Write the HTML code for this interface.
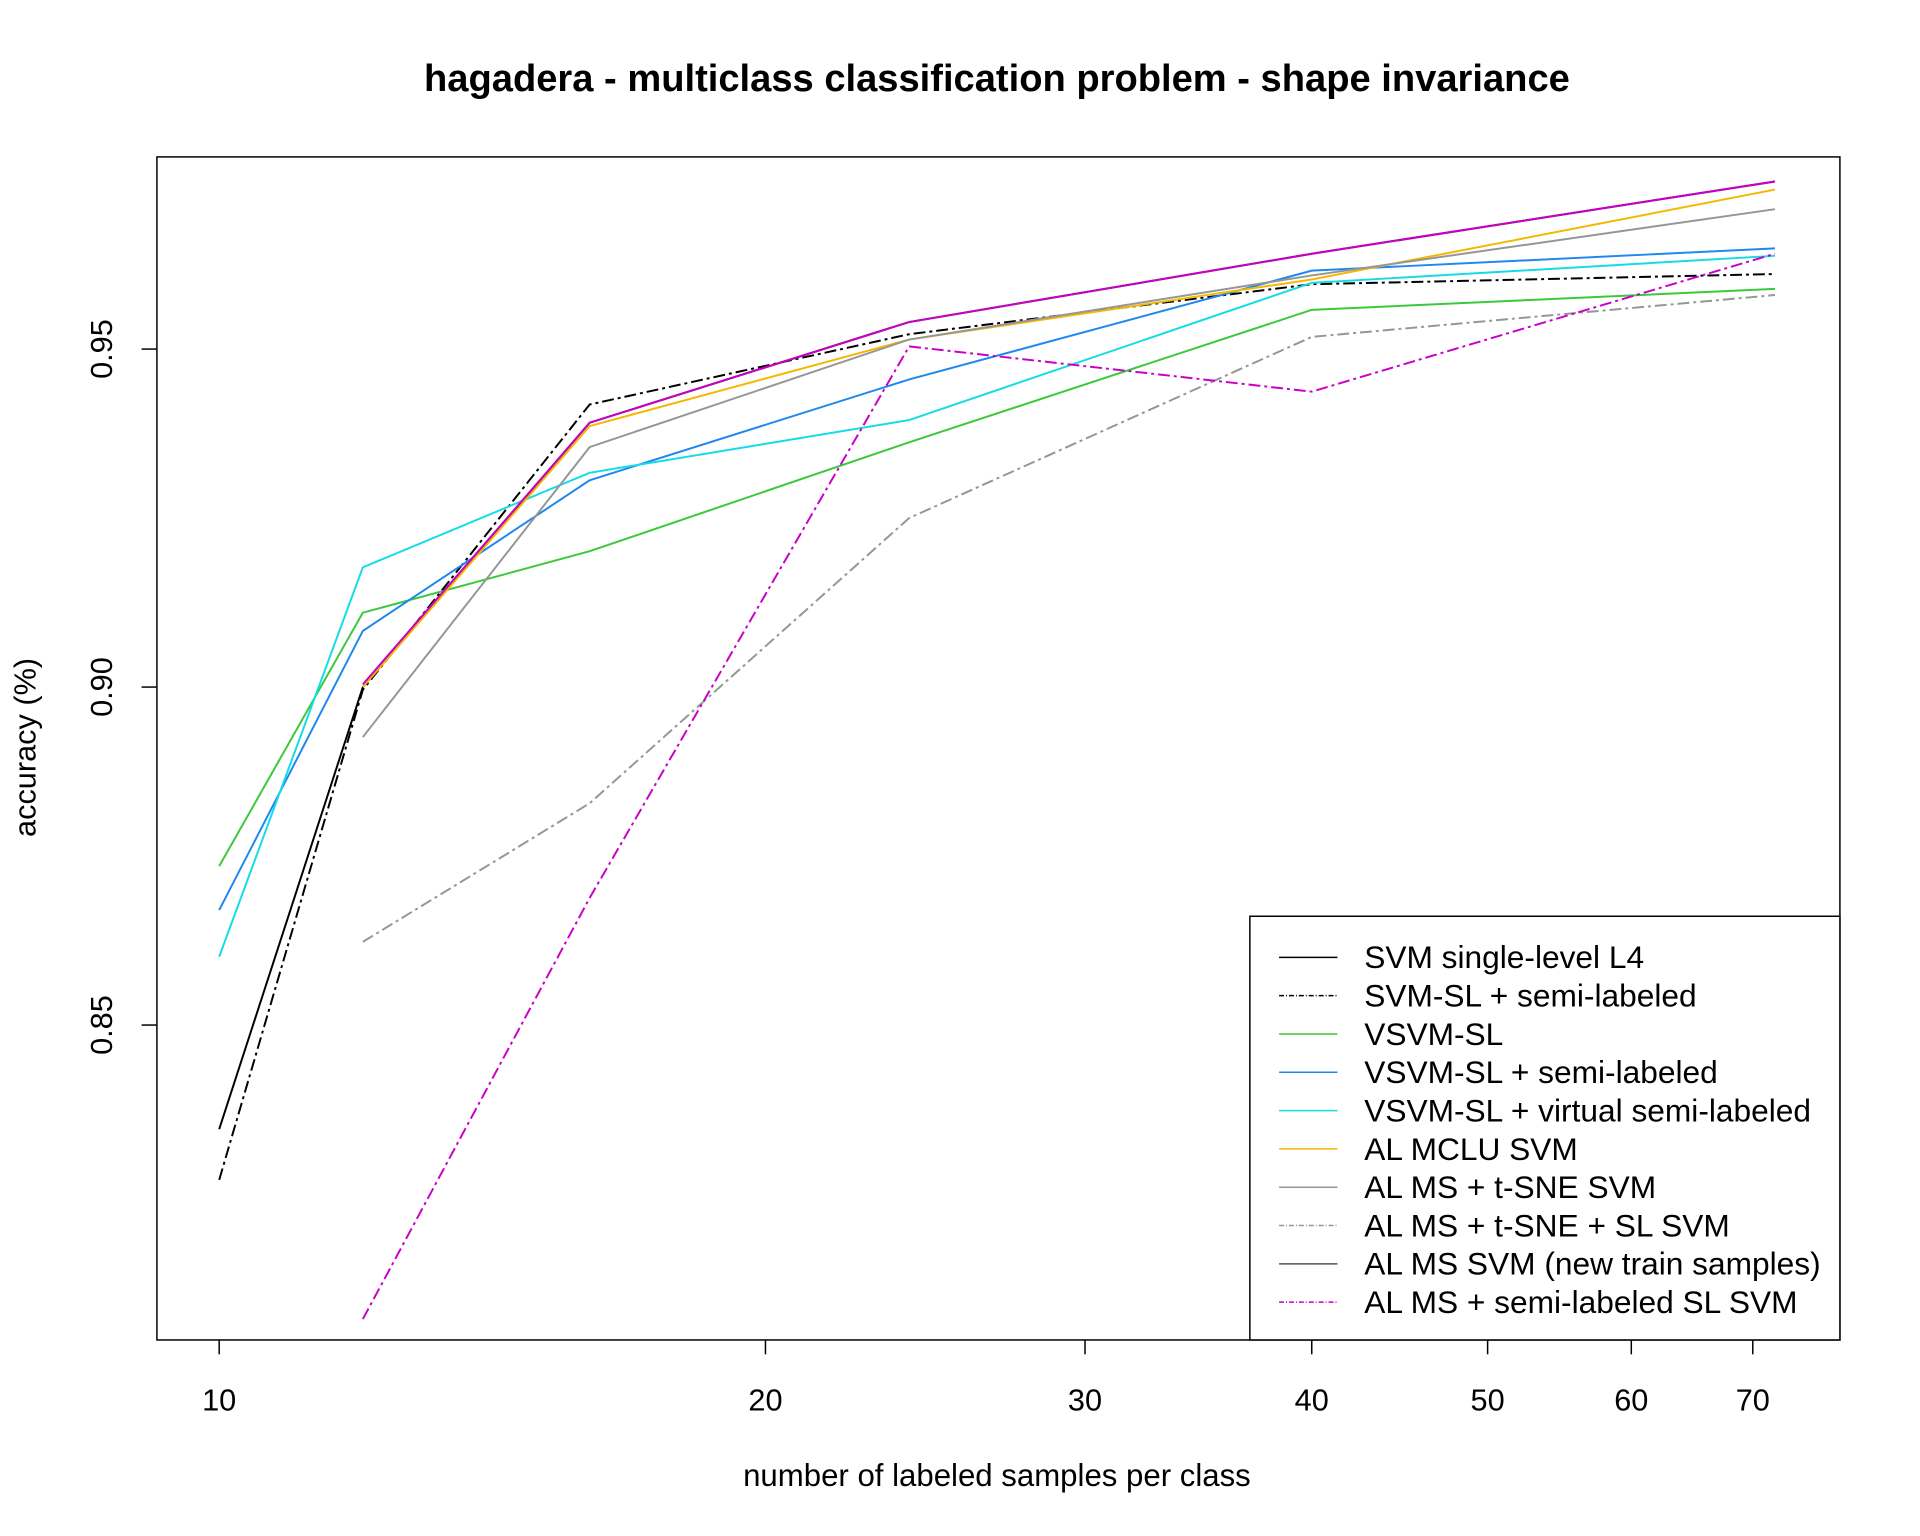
<!DOCTYPE html>
<html><head><meta charset="utf-8"><style>
html,body{margin:0;padding:0;background:#fff}
svg{display:block;font-family:"Liberation Sans",Arial,sans-serif}
</style></head><body>
<svg id="chart" width="1920" height="1536" viewBox="0 0 1920 1536">
<g transform="scale(0.99)">
<text x="1007" y="92" text-anchor="middle" font-size="38.5" font-weight="bold">hagadera - multiclass classification problem - shape invariance</text>
<rect x="158.5" y="158.5" width="1700" height="1195" fill="none" stroke="#000" stroke-width="1.5"/>
<g id="axes"></g>
<g id="series"></g>
<text x="1007" y="1501" text-anchor="middle" font-size="31.5">number of labeled samples per class</text>
<text transform="translate(36,755) rotate(-90)" text-anchor="middle" font-size="31">accuracy (%)</text>
<g id="legend">
<rect x="1262.5" y="925.5" width="596" height="428" fill="#fff" stroke="#000" stroke-width="1.5"/>
</g>
</g>
</svg>
<script>
const xs = [10, 12, 16, 24, 40, 72];
const svmL4 = [0.8346, 0.9000, 0.9391, 0.9540, 0.9641, 0.9748];
const svmSL = [0.8271, 0.8996, 0.9418, 0.9522, 0.9596, 0.9611];
const vsvmSL = [0.8735, 0.9110, 0.9201, 0.9362, 0.9558, 0.9589];
const vsvmSemi = [0.8670, 0.9083, 0.9306, 0.9455, 0.9616, 0.9649];
const vsvmVirtual = [0.8601, 0.9177, 0.9317, 0.9395, 0.9598, 0.9638];
const alMclu = [null, 0.9000, 0.9386, 0.9514, 0.9603, 0.9736];
const alMsTsne = [null, 0.8926, 0.9355, 0.9514, 0.9609, 0.9707];
const alMsTsneSL = [null, 0.8623, 0.8828, 0.9250, 0.9518, 0.9580];
const alMsNew = [null, 0.9004, 0.9391, 0.9540, 0.9641, 0.9748];
const alMsSemiSL = [null, 0.8065, 0.8688, 0.9504, 0.9437, 0.9641];
const yTicks = [0.85, 0.90, 0.95];
const xTicks = [10, 20, 30, 40, 50, 60, 70];
const legendLabels = ["SVM single-level L4","SVM-SL + semi-labeled","VSVM-SL","VSVM-SL + semi-labeled","VSVM-SL + virtual semi-labeled","AL MCLU SVM","AL MS + t-SNE SVM","AL MS + t-SNE + SL SVM","AL MS SVM (new train samples)","AL MS + semi-labeled SL SVM"];

const NS = "http://www.w3.org/2000/svg";
function xPix(v){ return 221.4 + Math.log2(v/10)*551.8; }
function yPix(v){ return 352.6 + (0.95 - v)/0.05*341.4; }
function mk(tag, attrs, parent){ const e=document.createElementNS(NS,tag); for(const k in attrs) e.setAttribute(k,attrs[k]); parent.appendChild(e); return e; }

const axes = document.getElementById('axes');
yTicks.forEach(t=>{
  const y=yPix(t);
  const l=mk('line',{x1:143,x2:158,y1:y,y2:y,stroke:'#000','stroke-width':1.5},axes);
  
  
  const tx=mk('text',{transform:`translate(113,${y}) rotate(-90)`,'text-anchor':'middle','font-size':31},axes);
  tx.textContent=t.toFixed(2);
  
  
});
xTicks.forEach(t=>{
  const x=xPix(t);
  const l=mk('line',{x1:x,x2:x,y1:1353,y2:1368,stroke:'#000','stroke-width':1.5},axes);
  
  
  const tx=mk('text',{x:x,y:1425,'text-anchor':'middle','font-size':31},axes);
  tx.textContent=String(t);
  
  
});

const dashDot = "12,4,3,4";
const styles = [
  {d:svmL4, c:'#000000', dash:null, n:'svm-single-level-line'},
  {d:svmSL, c:'#000000', dash:dashDot, n:'svm-sl-semi-line'},
  {d:vsvmSL, c:'#3cc83c', dash:null, n:'vsvm-sl-line'},
  {d:vsvmSemi, c:'#1e88f0', dash:null, n:'vsvm-sl-semi-line'},
  {d:vsvmVirtual, c:'#14dce6', dash:null, n:'vsvm-sl-virtual-line'},
  {d:alMclu, c:'#f5b800', dash:null, n:'al-mclu-line'},
  {d:alMsTsne, c:'#969696', dash:null, n:'al-ms-tsne-line'},
  {d:alMsTsneSL, c:'#969696', dash:dashDot, n:'al-ms-tsne-sl-line'},
  {d:alMsNew, c:'#c800c8', dash:null, n:'al-ms-new-line'},
  {d:alMsSemiSL, c:'#c800c8', dash:dashDot, n:'al-ms-semi-sl-line'}
];
const legendColors = ['#000','#000','#3cc83c','#1e88f0','#14dce6','#f5b800','#969696','#969696','#555','#c800c8'];
const series = document.getElementById('series');
styles.forEach(s=>{
  const pts=[];
  s.d.forEach((v,i)=>{ if(v!==null) pts.push(xPix(xs[i]).toFixed(1)+','+yPix(v).toFixed(1)); });
  const a={points:pts.join(' '),fill:'none',stroke:s.c,'stroke-width':2};
  if(s.dash) a['stroke-dasharray']=s.dash;
  const p=mk('polyline',a,series);
  
  
});

const lg=document.getElementById('legend');
legendLabels.forEach((lab,i)=>{
  const y=967+38.7*i;
  const a={x1:1292,x2:1351,y1:y,y2:y,stroke:legendColors[i],'stroke-width':1.5};
  if(styles[i].dash) a['stroke-dasharray']='5,2,1,2';
  const l=mk('line',a,lg);
  
  
  const t=mk('text',{x:1378,y:y+11,'font-size':32},lg);
  t.textContent=lab;
  
  
});
</script>
</body></html>
